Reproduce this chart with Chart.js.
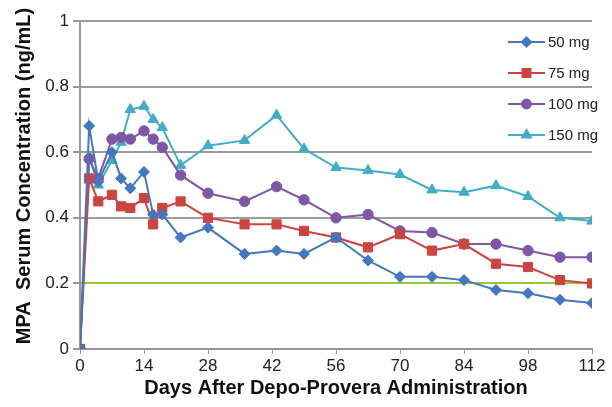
<!DOCTYPE html>
<html><head><meta charset="utf-8">
<script src="https://cdn.jsdelivr.net/npm/chart.js@4/dist/chart.umd.min.js"></script>
<style>html,body{margin:0;padding:0;background:#fff;}#wrap{width:612px;height:407px;}</style>
</head><body><div id="wrap"><canvas id="c" width="612" height="407"></canvas></div>
<script>
const days = [0, 2, 4, 7, 9, 11, 14, 16, 18, 22, 28, 36, 43, 49, 56, 63, 70, 77, 84, 91, 98, 105, 112];
const seriesNames = ['50 mg', '75 mg', '100 mg', '150 mg'];
const mg50  = [0, 0.68, 0.51, 0.60, 0.52, 0.49, 0.54, 0.41, 0.41, 0.34, 0.37, 0.29, 0.30, 0.29, 0.34, 0.27, 0.22, 0.22, 0.21, 0.18, 0.17, 0.15, 0.14];
const mg75  = [0, 0.52, 0.45, 0.47, 0.435, 0.43, 0.46, 0.38, 0.43, 0.45, 0.40, 0.38, 0.38, 0.36, 0.34, 0.31, 0.35, 0.30, 0.32, 0.26, 0.25, 0.21, 0.20];
const mg100 = [0, 0.58, 0.52, 0.64, 0.645, 0.64, 0.665, 0.64, 0.615, 0.53, 0.475, 0.45, 0.495, 0.455, 0.40, 0.41, 0.36, 0.355, 0.32, 0.32, 0.30, 0.28, 0.28];
const mg150 = [0, 0.585, 0.50, 0.575, 0.63, 0.73, 0.74, 0.70, 0.675, 0.56, 0.62, 0.636, 0.713, 0.61, 0.553, 0.544, 0.532, 0.485, 0.478, 0.498, 0.465, 0.40, 0.39];
const xTickValues = [0, 14, 28, 42, 56, 70, 84, 98, 112];
const yTickValues = [0, 0.2, 0.4, 0.6, 0.8, 1];
const yTickLabels = ['0', '0.2', '0.4', '0.6', '0.8', '1'];
const xTitle = 'Days After Depo-Provera Administration';
const yTitle = 'MPA  Serum Concentration (ng/mL)';

const FONT = '"Liberation Sans", Arial, sans-serif';
const styles = [
  {color: '#4377c0', point: 'rectRot', r: 5.5},
  {color: '#cc4440', point: 'rect', r: 6.5},
  {color: '#7e58a6', point: 'circle', r: 5.2},
  {color: '#42adc8', point: 'triangle', r: 6}
];
const allSeries = [mg50, mg75, mg100, mg150];
const datasets = allSeries.map((vals, i) => ({
  label: seriesNames[i],
  data: days.map((d, j) => ({x: d, y: vals[j]})),
  borderColor: styles[i].color,
  backgroundColor: styles[i].color,
  pointBackgroundColor: styles[i].color,
  pointBorderColor: styles[i].color,
  pointStyle: styles[i].point,
  pointRadius: styles[i].r,
  pointBorderWidth: 1,
  borderWidth: 2,
  tension: 0
}));

const legendPlugin = {
  id: 'insideLegend',
  afterDraw(chart) {
    const ctx = chart.ctx;
    const ys = [42, 73, 104, 135];
    ctx.save();
    chart.data.datasets.forEach((ds, i) => {
      const y = ys[i];
      ctx.strokeStyle = ds.borderColor;
      ctx.lineWidth = 2;
      ctx.beginPath(); ctx.moveTo(508, y); ctx.lineTo(545, y); ctx.stroke();
      ctx.fillStyle = ds.borderColor;
      Chart.helpers.drawPoint(ctx, {pointStyle: ds.pointStyle, radius: ds.pointRadius * 0.85, rotation: 0, borderWidth: 1}, 526.5, y);
      ctx.fillStyle = '#222';
      ctx.font = '15px ' + FONT;
      ctx.textAlign = 'left'; ctx.textBaseline = 'middle';
      ctx.fillText(ds.label, 548, y + 1);
    });
    ctx.restore();
  }
};

const yTitlePlugin = {
  id: 'yTitle',
  afterDraw(chart) {
    const ctx = chart.ctx;
    ctx.save();
    ctx.translate(24, 176);
    ctx.rotate(-Math.PI / 2);
    ctx.fillStyle = '#111';
    ctx.font = 'bold 20px ' + FONT;
    ctx.textAlign = 'center'; ctx.textBaseline = 'middle';
    ctx.fillText(yTitle, 0, 0);
    ctx.restore();
  }
};

const bg = {id:'bg', beforeDraw(c){const x=c.ctx; x.save(); x.fillStyle='#fff'; x.fillRect(0,0,c.width,c.height); x.restore();}};

new Chart(document.getElementById('c'), {
  type: 'line',
  data: {datasets},
  options: {
    responsive: false, animation: false, devicePixelRatio: 1,
    layout: {padding: {top: 21, right: 20, left: 0, bottom: 0}},
    plugins: {legend: {display: false}, tooltip: {enabled: false}},
    scales: {
      x: {
        type: 'linear', min: 0, max: 112,
        afterBuildTicks: s => { s.ticks = xTickValues.map(v => ({value: v})); },
        afterFit: s => { s.height = 58; },
        grid: {drawOnChartArea: false, drawTicks: true, tickLength: 5, color: '#999', lineWidth: 1},
        border: {display: true, color: '#999', width: 2},
        ticks: {color: '#222', font: {family: FONT, size: 17}, padding: 2, maxRotation: 0, autoSkip: false},
        title: {display: true, text: xTitle, color: '#111', font: {family: FONT, size: 20, weight: 'bold'}, padding: {top: 2, bottom: 7}}
      },
      y: {
        min: 0, max: 1,
        afterBuildTicks: s => { s.ticks = yTickValues.map(v => ({value: v})); },
        afterFit: s => { s.width = 80; },
        grid: {
          color: c => (Math.abs(c.tick.value - 0.2) < 1e-6 ? '#94c83c' : '#9c9c9c'),
          tickColor: '#999', lineWidth: 2, tickLength: 7, drawTicks: true
        },
        border: {display: true, color: '#999', width: 2},
        ticks: {
          color: '#222', font: {family: FONT, size: 17}, padding: 4,
          callback: (v) => { const k = yTickValues.findIndex(t => Math.abs(t - v) < 1e-6); return k >= 0 ? yTickLabels[k] : ''; }
        },
        title: {display: false}
      }
    }
  },
  plugins: [bg, legendPlugin, yTitlePlugin]
});
</script></body></html>
